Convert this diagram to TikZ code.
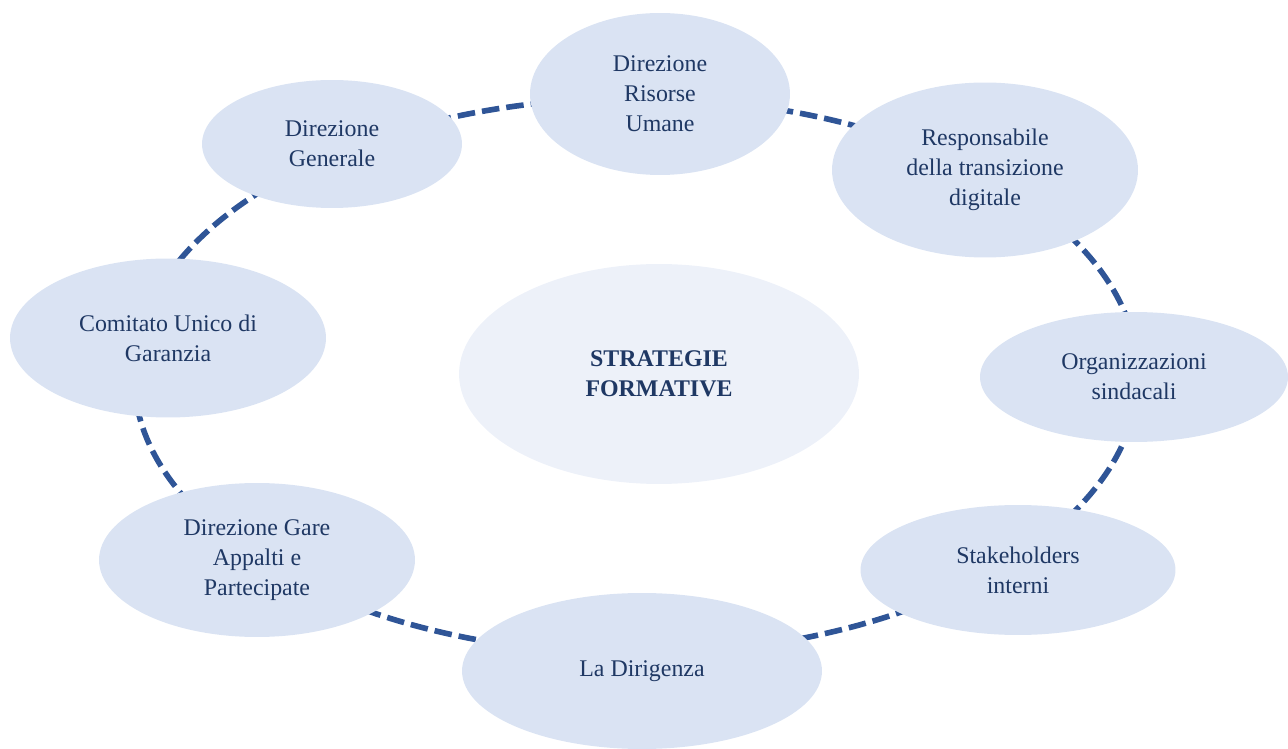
\documentclass[tikz,border=0pt]{standalone}
\usepackage{fontspec}
\setmainfont{Liberation Serif}
\usetikzlibrary{shapes.geometric}
\definecolor{ringblue}{HTML}{2F5597}
\definecolor{nodefill}{HTML}{DAE3F3}
\definecolor{centerfill}{HTML}{EDF1F9}
\definecolor{txtnavy}{HTML}{1F3864}
\tikzset{
  member/.style={ellipse, fill=nodefill, inner sep=0pt, align=center, text=txtnavy,
    font=\fontsize{13.6}{17}\selectfont},
  hub/.style={ellipse, fill=centerfill, inner sep=0pt, align=center, text=txtnavy,
    font=\fontsize{13.6}{17}\selectfont\bfseries},
  ring/.style={draw=ringblue, line width=3.2pt, dash pattern=on 10pt off 4pt}
}
\begin{document}
\begin{tikzpicture}[x=0.02cm, y=-0.02cm]
\useasboundingbox (0,0) rectangle (1288,749);
\coordinate (ringc) at (636,376);
\draw[ring] (ringc) ellipse [x radius=10.04cm, y radius=5.56cm];
\node[hub, minimum width=8cm, minimum height=4.4cm] (hub) at (659,374) {STRATEGIE\\FORMATIVE};
\node[member, minimum width=5.2cm, minimum height=3.24cm] (dru) at (660,94) {Direzione\\Risorse\\Umane};
\node[member, minimum width=5.2cm, minimum height=2.56cm] (dg) at (332,144) {Direzione\\Generale};
\node[member, minimum width=6.12cm, minimum height=3.5cm] (rtd) at (985,170) {Responsabile\\della transizione\\digitale};
\node[member, minimum width=6.16cm, minimum height=2.6cm] (os) at (1134,377) {Organizzazioni\\sindacali};
\node[member, minimum width=6.3cm, minimum height=2.6cm] (si) at (1018,570) {Stakeholders\\interni};
\node[member, minimum width=7.2cm, minimum height=3.12cm] (ld) at (642,671) {La Dirigenza};
\node[member, minimum width=6.32cm, minimum height=3.08cm] (dga) at (257,560) {Direzione Gare\\Appalti e\\Partecipate};
\node[member, minimum width=6.32cm, minimum height=3.18cm] (cug) at (168,338) {Comitato Unico di\\Garanzia};
\end{tikzpicture}
\end{document}
